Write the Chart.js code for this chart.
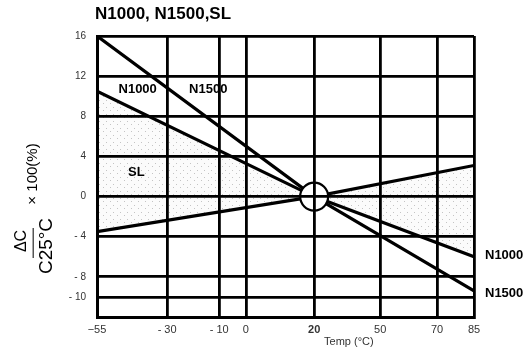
<!DOCTYPE html>
<html>
<head>
<meta charset="utf-8">
<script src="https://cdn.jsdelivr.net/npm/chart.js@4.4.0/dist/chart.umd.min.js"></script>
<style>
  html, body { margin: 0; padding: 0; background: #fff; }
</style>
</head>
<body>
<canvas id="chart" width="531" height="352"></canvas>
<script>
// data
const temps = [-55, 20, 85];
const n1500 = [16, 0, -9.4];
const n1000 = [10.5, 0, -6.0];
const sl = [-3.5, 0, 3.1];

const xTicks = [-55, -30, -10, 0, 20, 50, 70, 85];
const xTickLabels = ['−55', '- 30', '- 10', '0', '20', '50', '70', '85'];
const yTicks = [16, 12, 8, 4, 0, -4, -8, -10];
const yTickLabels = ['16', '12', '8', '4', '0', '- 4', '- 8', '- 10'];

// the printed temp axis is not evenly spaced: share of the axis width at each tick
const xTickSpots = [0, 0.186, 0.324, 0.395, 0.576, 0.751, 0.902, 1];

const seriesNames = ['N1500', 'N1000', 'SL'];
const inLabels = [
  { text: 'N1000', x: -40.5, y: 10.7 },
  { text: 'N1500', x: -14.2, y: 10.7 },
  { text: 'SL', x: -41, y: 2.4 }
];
const endLabels = [
  { text: 'N1000', y: -5.9 },
  { text: 'N1500', y: -9.7 }
];

// piecewise linear scale so the grid falls where the sheet has it
class WarpScale extends Chart.LinearScale {
  static id = 'warp';
  toDecimal(v) {
    for (let i = 1; i < xTicks.length; i++) {
      if (v <= xTicks[i] || i === xTicks.length - 1) {
        const t = (v - xTicks[i - 1]) / (xTicks[i] - xTicks[i - 1]);
        return xTickSpots[i - 1] + t * (xTickSpots[i] - xTickSpots[i - 1]);
      }
    }
    return 0;
  }
  getPixelForValue(v) {
    if (v === null || v === undefined) return NaN;
    return this.getPixelForDecimal(this.toDecimal(v));
  }
  getValueForPixel(p) {
    const d = this.getDecimalForPixel(p);
    for (let i = 1; i < xTickSpots.length; i++) {
      if (d <= xTickSpots[i] || i === xTickSpots.length - 1) {
        const t = (d - xTickSpots[i - 1]) / (xTickSpots[i] - xTickSpots[i - 1]);
        return xTicks[i - 1] + t * (xTicks[i] - xTicks[i - 1]);
      }
    }
    return xTicks[0];
  }
}
Chart.register(WarpScale);

const canvas = document.getElementById('chart');

// light stipple for the band between SL and N1000
const pc = document.createElement('canvas');
pc.width = 7; pc.height = 7;
const pctx = pc.getContext('2d');
pctx.fillStyle = '#fbfbfb';
pctx.fillRect(0, 0, 7, 7);
pctx.fillStyle = '#c4c4c4';
pctx.fillRect(1, 2, 1, 1);
pctx.fillRect(5, 5, 1, 1);
const stipple = canvas.getContext('2d').createPattern(pc, 'repeat');

const pts = arr => temps.map((t, i) => ({ x: t, y: arr[i] }));
const FONT = '"Liberation Sans", Arial, sans-serif';

const annot = {
  id: 'annot',
  afterDraw(chart) {
    const { ctx, chartArea: a, scales: { x, y } } = chart;
    ctx.save();
    ctx.fillStyle = '#000';
    ctx.textBaseline = 'middle';

    ctx.font = 'bold 17px ' + FONT;
    ctx.textAlign = 'left';
    ctx.fillText('N1000, N1500,SL', a.left - 2, 14);

    ctx.font = 'bold 13px ' + FONT;
    ctx.textAlign = 'center';
    inLabels.forEach(l => ctx.fillText(l.text, x.getPixelForValue(l.x), y.getPixelForValue(l.y)));
    ctx.textAlign = 'left';
    endLabels.forEach(l => ctx.fillText(l.text, a.right + 11, y.getPixelForValue(l.y)));

    ctx.font = '11px ' + FONT;
    ctx.fillStyle = '#333';
    ctx.textAlign = 'center';
    ctx.fillText('Temp (°C)', a.left + (a.right - a.left) * 0.668, 342);

    // y title as a fraction
    ctx.fillStyle = '#000';
    const vtext = (s, cx, cy, font) => {
      ctx.save();
      ctx.translate(cx, cy);
      ctx.rotate(-Math.PI / 2);
      ctx.font = font;
      ctx.textAlign = 'center';
      ctx.textBaseline = 'middle';
      ctx.fillText(s, 0, 0);
      ctx.restore();
    };
    vtext('ΔC', 22, 241, '16px ' + FONT);
    vtext('C25°C', 47, 246, '19px ' + FONT);
    vtext('× 100(%)', 33, 174, '15px ' + FONT);
    ctx.fillStyle = '#555';
    ctx.fillRect(32.5, 228, 1.5, 30);
    ctx.restore();
  }
};

new Chart(canvas, {
  type: 'line',
  data: {
    datasets: [
      { label: seriesNames[0], data: pts(n1500), borderColor: '#000', borderWidth: 3.2, pointRadius: 0, fill: false },
      { label: seriesNames[1], data: pts(n1000), borderColor: '#000', borderWidth: 3.2, pointRadius: 0, fill: false },
      { label: seriesNames[2], data: pts(sl), borderColor: '#000', borderWidth: 3.2, pointRadius: 0,
        fill: 1, backgroundColor: stipple },
      { label: 'ref', data: [{ x: 20, y: 0 }], showLine: false, order: -1,
        pointRadius: 14, pointBackgroundColor: '#fff', pointBorderColor: '#000', pointBorderWidth: 2.2 }
    ]
  },
  options: {
    responsive: false,
    animation: false,
    devicePixelRatio: 1,
    layout: { padding: { top: 36, right: 57, left: 0, bottom: 0 } },
    plugins: { legend: { display: false }, tooltip: { enabled: false }, title: { display: false } },
    scales: {
      x: {
        type: 'warp',
        min: -55, max: 85,
        afterFit: s => { s.height = 35; },
        afterBuildTicks: s => { s.ticks = xTicks.map(v => ({ value: v })); },
        grid: { color: '#000', lineWidth: 2.8, drawTicks: false, z: 1 },
        border: { color: '#000', width: 3, z: 1 },
        ticks: {
          autoSkip: false, maxRotation: 0, padding: 6,
          color: '#333',
          font: c => (c.tick && c.tick.value === 20) ? { family: FONT, size: 11, weight: 'bold' } : { family: FONT, size: 11 },
          callback: (v, i) => xTickLabels[i]
        }
      },
      y: {
        min: -12, max: 16,
        afterFit: s => { s.width = 97; },
        afterBuildTicks: s => { s.ticks = yTicks.map(v => ({ value: v })); },
        grid: { color: '#000', lineWidth: 2.8, drawTicks: false, z: 1 },
        border: { color: '#000', width: 3, z: 1 },
        ticks: {
          autoSkip: false, padding: 11, color: '#333',
          font: { family: FONT, size: 10 },
          callback: (v, i) => yTickLabels[i]
        }
      }
    }
  },
  plugins: [annot]
});
</script>
</body>
</html>
